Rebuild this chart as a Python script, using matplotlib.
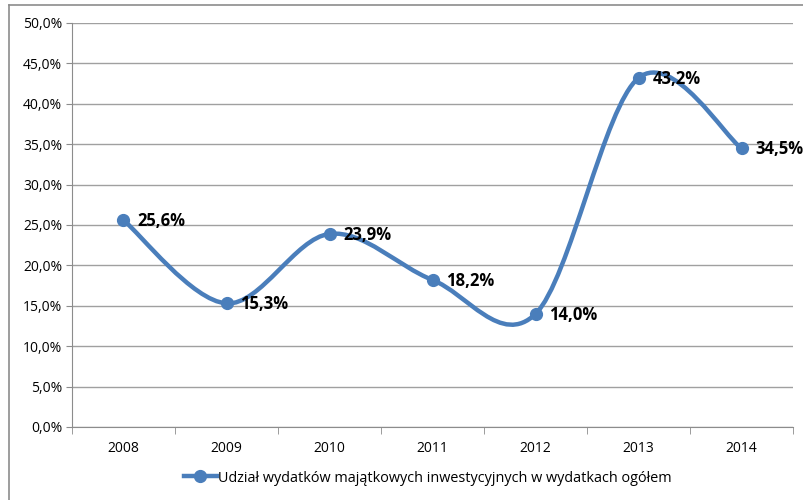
import matplotlib
matplotlib.use("Agg")
import matplotlib.pyplot as plt
from matplotlib.path import Path
from matplotlib.patches import PathPatch
from matplotlib.lines import Line2D
import numpy as np

years = ["2008", "2009", "2010", "2011", "2012", "2013", "2014"]
shares = [25.6, 15.3, 23.9, 18.2, 14.0, 43.2, 34.5]
labels = ["25,6%", "15,3%", "23,9%", "18,2%", "14,0%", "43,2%", "34,5%"]
series_name = "Udział wydatków majątkowych inwestycyjnych w wydatkach ogółem"

blue = "#4A7EBB"
grid = "#a0a0a0"
axis_col = "#8c8c8c"
plt.rcParams["font.family"] = ["Open Sans", "DejaVu Sans"]

fig = plt.figure(figsize=(8.04, 5.0), dpi=100)
ax = fig.add_axes([72 / 804, 73 / 500, 721 / 804, 404 / 500])

x = np.arange(len(years))
y = np.array(shares)

# smoothed line like Excel (Catmull-Rom as cubic Bezier)
verts = [(x[0], y[0])]
codes = [Path.MOVETO]
n = len(x)
for i in range(n - 1):
    p0 = np.array([x[max(i - 1, 0)], y[max(i - 1, 0)]])
    p1 = np.array([x[i], y[i]])
    p2 = np.array([x[i + 1], y[i + 1]])
    p3 = np.array([x[min(i + 2, n - 1)], y[min(i + 2, n - 1)]])
    c1 = p1 + (p2 - p0) / 6
    c2 = p2 - (p3 - p1) / 6
    verts += [tuple(c1), tuple(c2), tuple(p2)]
    codes += [Path.CURVE4] * 3
ax.add_patch(PathPatch(Path(verts, codes), facecolor="none", edgecolor=blue,
                       lw=3.2, capstyle="round", joinstyle="round", zorder=3))
ax.plot(x, y, "o", color=blue, ms=8.5, zorder=4)

for xi, yi, lab in zip(x, y, labels):
    ax.annotate(lab, (xi, yi), xytext=(10, -0.5), textcoords="offset points",
                va="center", ha="left", fontsize=12, fontweight="bold", color="#000000")

ax.set_xlim(-0.5, n - 0.5)
ax.set_ylim(0, 50)
ax.set_yticks(np.arange(0, 50.1, 5))
ax.set_yticklabels([f"{v:.1f}%".replace(".", ",") for v in np.arange(0, 50.1, 5)])
ax.set_xticks(x)
ax.set_xticklabels(years)
ax.set_xticks(np.arange(-0.5, n, 1), minor=True)
ax.tick_params(axis="x", which="major", length=0, pad=10, labelsize=10)
ax.tick_params(axis="x", which="minor", length=5, color=axis_col, direction="out")
ax.tick_params(axis="y", length=4, color=axis_col, labelsize=10, pad=3)
ax.grid(axis="y", color=grid, lw=1)
ax.set_axisbelow(True)
for s in ["top", "right"]:
    ax.spines[s].set_visible(False)
for s in ["left", "bottom"]:
    ax.spines[s].set_color(axis_col)

handle = Line2D([], [], color=blue, lw=3.2, marker="o", ms=8.5)
fig.legend([handle], [series_name], loc="center", bbox_to_anchor=(0.532, 1 - 478 / 500),
           frameon=False, fontsize=10.4, handlelength=2.3, handletextpad=0.1)

# chart frame
fig.add_artist(Line2D([9 / 804, 9 / 804], [0, 1 - 5 / 500], color="#8c8c8c", lw=1.2))
fig.add_artist(Line2D([9 / 804, 1], [1 - 5 / 500, 1 - 5 / 500], color="#8c8c8c", lw=1.2))

fig.savefig("out.png", dpi=100)
